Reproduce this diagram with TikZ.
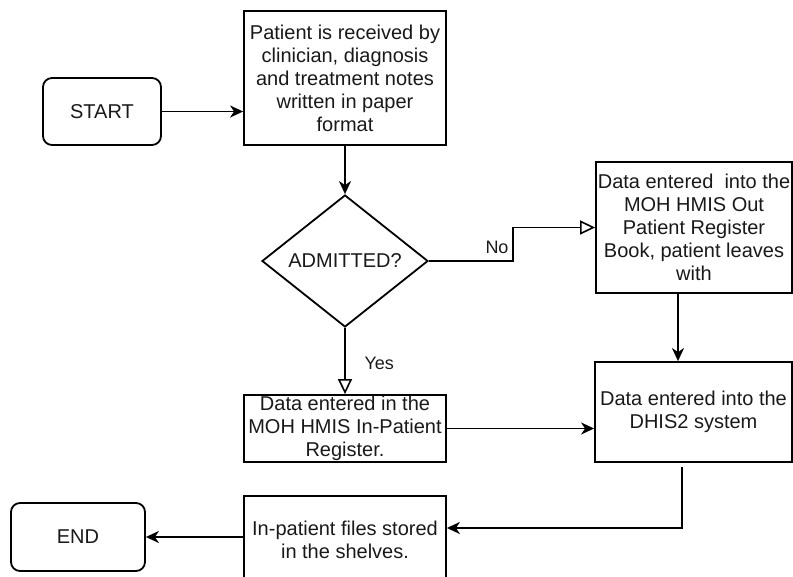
\documentclass[tikz,border=0pt]{standalone}
\usepackage{fontspec}
\setmainfont{Liberation Sans}
\usetikzlibrary{shapes.geometric,arrows.meta}
\begin{document}
\begin{tikzpicture}[x=1pt,y=-1pt,
  every node/.style={font=\fontsize{20}{23}\selectfont, text=black!90},
  box/.style={draw, line width=1.8pt, inner sep=0pt, align=center, anchor=center},
  rbox/.style={box, rounded corners=9pt},
  dia/.style={draw, line width=1.8pt, shape=diamond, inner sep=0pt, minimum width=166pt, minimum height=132pt},
  line/.style={line width=1.8pt},
  arr/.style={line, -{Stealth[length=13pt,width=12pt,inset=4pt]}},
  oarr/.style={line, -{Triangle[open,length=15pt,width=14pt,line width=1.6pt]}},
  lbl/.style={font=\fontsize{18}{21}\selectfont}
]
\useasboundingbox (0,0) rectangle (793,576);
\clip (0,0) rectangle (793,576);

\node[rbox, minimum width=118pt, minimum height=67pt] (start) at (102,111.5) {START};
\node[box, minimum width=202pt, minimum height=134pt] (recv) at (345,78)
  {Patient is received by\\clinician, diagnosis\\and treatment notes\\written in paper\\format};
\node[dia] (adm) at (345,261) {ADMITTED?};
\node[box, minimum width=196pt, minimum height=131pt] (out) at (694,227.5)
  {Data entered\ \ into the\\MOH HMIS Out\\Patient Register\\Book, patient leaves\\with};
\node[box, minimum width=202pt, minimum height=67pt] (inpat) at (345,428.5)
  {Data entered in the\\MOH HMIS In-Patient\\Register.};
\node[box, minimum width=197pt, minimum height=100pt] (dhis) at (693.5,412)
  {Data entered into the\\DHIS2 system};
\node[box, minimum width=202pt, minimum height=88pt] (files) at (345,540)
  {In-patient files stored\\in the shelves.};
\node[rbox, minimum width=134pt, minimum height=68pt] (end) at (78,537) {END};

\draw[arr] (start.east) -- (start.east -| recv.west);
\draw[arr] (recv.south) -- (adm.north);
\draw[oarr] (adm.east) -- ++(84,0) |- (out.west);
\node[lbl] (no) at (497,247) {No};
\draw[oarr] (adm.south) -- (inpat.north);
\node[lbl, anchor=west] (yes) at (361,363) {Yes};
\draw[arr] ([xshift=-16pt]out.south) -- ([xshift=-16pt]out.south |- dhis.north);
\draw[arr] (inpat.east) -- (inpat.east -| dhis.west);
\draw[arr] ([xshift=-11.5pt,yshift=-4pt]dhis.south) |- ([yshift=12pt]files.east);
\draw[arr] (end.east -| files.west) -- (end.east);
\end{tikzpicture}
\end{document}
